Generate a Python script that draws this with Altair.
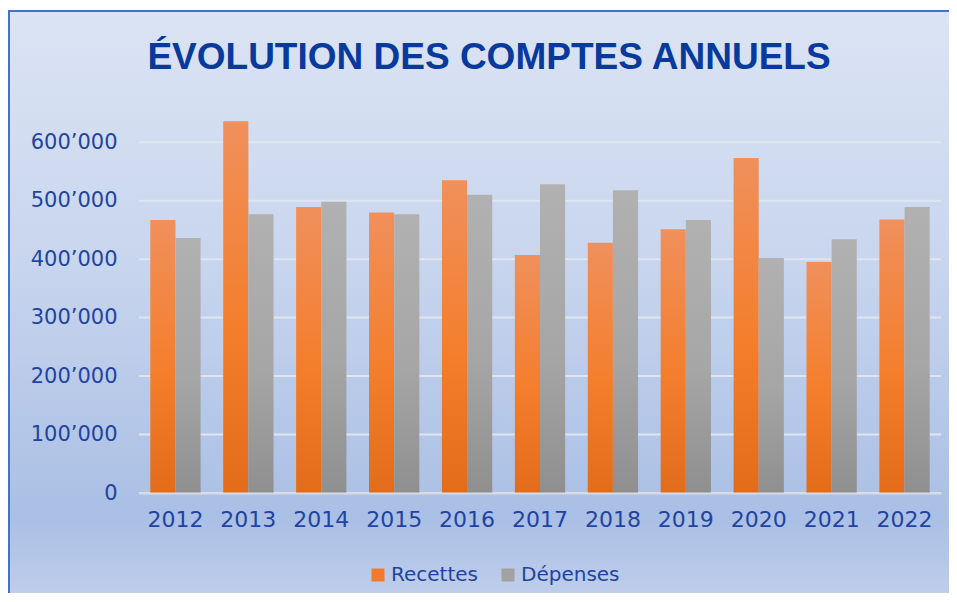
import altair as alt
import pandas as pd

years = ["2012", "2013", "2014", "2015", "2016", "2017", "2018", "2019", "2020", "2021", "2022"]
recettes = [467000, 636000, 489000, 480000, 535000, 407000, 428000, 451000, 573000, 395000, 468000]
depenses = [436000, 477000, 498000, 477000, 510000, 528000, 518000, 467000, 402000, 434000, 489000]
series = ["Recettes", "Dépenses"]
y_ticks = [0, 100000, 200000, 300000, 400000, 500000, 600000]
title_text = "ÉVOLUTION DES COMPTES ANNUELS"

rows = []
for y, r, d in zip(years, recettes, depenses):
    rows.append({"annee": y, "serie": "Recettes", "valeur": r})
    rows.append({"annee": y, "serie": "Dépenses", "valeur": d})
df = pd.DataFrame(rows)

W, H = 802, 380
BLUE = "#1f44a0"

bg_grad = alt.Gradient(
    gradient="linear", x1=0, y1=0, x2=0, y2=1,
    stops=[
        alt.GradientStop(offset=0, color="#dbe4f4"),
        alt.GradientStop(offset=0.4, color="#c9d6ee"),
        alt.GradientStop(offset=0.84, color="#aabfe5"),
        alt.GradientStop(offset=1, color="#c3d1ec"),
    ],
)
orange_grad = alt.Gradient(
    gradient="linear", x1=0, y1=0, x2=0, y2=1,
    stops=[
        alt.GradientStop(offset=0, color="#f0905c"),
        alt.GradientStop(offset=0.55, color="#f47e2c"),
        alt.GradientStop(offset=1, color="#e36c1b"),
    ],
)
gray_grad = alt.Gradient(
    gradient="linear", x1=0, y1=0, x2=0, y2=1,
    stops=[
        alt.GradientStop(offset=0, color="#b1b1b1"),
        alt.GradientStop(offset=0.55, color="#a6a6a6"),
        alt.GradientStop(offset=1, color="#8f8f8f"),
    ],
)

y_scale = alt.Scale(domain=[0, 650000], nice=False)

x_enc = alt.X(
    "annee:N", sort=years,
    scale=alt.Scale(paddingInner=0.31, paddingOuter=0.155),
    axis=alt.Axis(
        title=None, labelAngle=0, ticks=False, labelPadding=16,
        labelFont="DejaVu Sans", labelFontSize=22, labelColor=BLUE,
        domain=True, domainColor="#d6dbe3", domainWidth=2, grid=False,
        zindex=1,
    ),
)
y_enc = alt.Y(
    "valeur:Q",
    scale=y_scale,
    axis=alt.Axis(
        title=None, values=y_ticks, ticks=False, domain=False, labelPadding=22,
        labelFont="DejaVu Sans", labelFontSize=21, labelColor=BLUE,
        labelExpr="replace(format(datum.value, ','), ',', '\u2019')",
        grid=False, zindex=1,
    ),
)
xo = alt.XOffset("serie:N", sort=series, scale=alt.Scale(domain=series))

background = alt.Chart(pd.DataFrame({"k": [0]})).mark_rect(
    fill=bg_grad, stroke="#4472c4", strokeWidth=2
).encode(
    x=alt.value(-130), x2=alt.value(W + 30),
    y=alt.value(-102), y2=alt.value(H + 120),
)

title = alt.Chart(pd.DataFrame({"t": [title_text]})).mark_text(
    font="Liberation Sans", fontSize=37, fontWeight="bold",
    color="#073a9c", align="center", baseline="alphabetic",
).encode(text="t:N", x=alt.value(W / 2 - 51), y=alt.value(-44))

grid = alt.Chart(pd.DataFrame({"valeur": y_ticks})).mark_rule(
    color="#dfe5f0", strokeWidth=2
).encode(y=y_enc)

base = alt.Chart(df)

bars_r = base.transform_filter(alt.datum.serie == "Recettes").mark_bar(
    color=orange_grad
).encode(x=x_enc, y=y_enc, xOffset=xo)

bars_d = base.transform_filter(alt.datum.serie == "Dépenses").mark_bar(
    color=gray_grad
).encode(x=x_enc, y=y_enc, xOffset=xo)

legend_layer = base.mark_square(opacity=0, size=1).encode(
    x=x_enc, y=y_enc, xOffset=xo,
    color=alt.Color(
        "serie:N", sort=series,
        scale=alt.Scale(domain=series, range=["#f27a2a", "#a2a2a2"]),
        legend=alt.Legend(
            title=None, orient="none", direction="horizontal",
            legendX=229, legendY=452, padding=0,
            symbolType="square", symbolSize=169, symbolOpacity=1,
            symbolStrokeWidth=0,
            labelFont="DejaVu Sans", labelFontSize=20, labelColor=BLUE,
            labelOffset=3, columnPadding=19,
        ),
    ),
)

chart = alt.layer(background, title, grid, bars_r, bars_d, legend_layer).properties(
    width=W, height=H,
    autosize=alt.AutoSizeParams(type="none"),
    padding={"left": 131, "top": 105, "right": 8, "bottom": 100},
).configure(background="white").configure_view(stroke=None)

chart.save("out.html", embed_options={"renderer": "svg", "actions": False})
